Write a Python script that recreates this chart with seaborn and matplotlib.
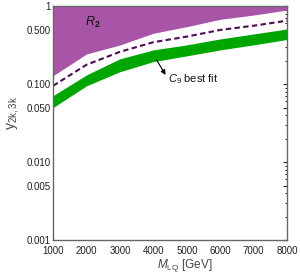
import numpy as np
import pandas as pd
import matplotlib
matplotlib.use("Agg")
import matplotlib.pyplot as plt
import seaborn as sns
from matplotlib.ticker import FixedLocator, FixedFormatter, MultipleLocator, LogLocator, NullFormatter

# leptoquark mass [GeV]
m_lq = [1000, 2000, 3000, 4000, 5000, 6000, 7000, 8000]

# lower edge of the excluded R2 region (upper edge is y = 1)
r2_lower = [0.128, 0.243, 0.317, 0.448, 0.544, 0.676, 0.767, 0.889]
# dashed boundary
dashed = [0.095, 0.177, 0.259, 0.344, 0.406, 0.494, 0.560, 0.649]
# C9 best fit band
c9_upper = [0.071, 0.131, 0.211, 0.274, 0.318, 0.379, 0.439, 0.508]
c9_lower = [0.050, 0.095, 0.144, 0.194, 0.230, 0.274, 0.318, 0.373]

y_ticks = [0.001, 0.005, 0.010, 0.050, 0.100, 0.500, 1]
y_tick_labels = ["0.001", "0.005", "0.010", "0.050", "0.100", "0.500", "1"]
x_ticks = [1000, 2000, 3000, 4000, 5000, 6000, 7000, 8000]

purple = "#A855A8"
green = "#00A600"
dark_purple = "#4E0C55"

sns.set_style("white")
plt.rcParams["font.family"] = ["Liberation Sans", "DejaVu Sans"]
plt.rcParams["mathtext.fontset"] = "custom"
plt.rcParams["mathtext.rm"] = "Liberation Sans"
plt.rcParams["mathtext.it"] = "Liberation Sans:italic"
plt.rcParams["mathtext.bf"] = "Liberation Sans:bold"

df = pd.DataFrame({"M": m_lq, "dashed": dashed})

fig = plt.figure(figsize=(3.0, 2.75), dpi=100)
ax = fig.add_axes([0.177, 0.127, 0.78, 0.851])

ax.fill_between(m_lq, r2_lower, [1] * len(m_lq), color=purple, linewidth=0)
ax.fill_between(m_lq, c9_lower, c9_upper, color=green, linewidth=0)
sns.lineplot(data=df, x="M", y="dashed", ax=ax, color=dark_purple,
             linewidth=1.5, dashes=False)
ax.lines[-1].set_dashes([2.6, 1.6])

ax.set_yscale("log")
ax.set_xlim(1000, 8000)
ax.set_ylim(0.001, 1)

ax.yaxis.set_major_locator(FixedLocator(y_ticks))
ax.yaxis.set_major_formatter(FixedFormatter(y_tick_labels))
ax.yaxis.set_minor_locator(LogLocator(base=10, subs=np.arange(2, 10) * 1.0))
ax.yaxis.set_minor_formatter(NullFormatter())
ax.xaxis.set_major_locator(FixedLocator(x_ticks))
ax.xaxis.set_minor_locator(MultipleLocator(200))

ax.tick_params(which="both", direction="in", top=True, right=True,
               labelsize=7, colors="#222222")
ax.tick_params(axis="y", pad=1.5)
ax.tick_params(axis="x", pad=4.5)
ax.tick_params(which="major", length=3, width=0.8)
ax.tick_params(which="minor", length=1.5, width=0.7)
for s in ax.spines.values():
    s.set_color("#666666")
    s.set_linewidth(1.0)

ax.set_xlabel(r"$M_{\mathrm{LQ}}$ [GeV]", fontsize=8.5, color="#444444")
ax.xaxis.set_label_coords(0.564, -0.074)
ax.set_ylabel(r"$\mathrm{y}_{\mathrm{2k,3k}}$", fontsize=10, color="#444444",
              va="center")
ax.yaxis.set_label_coords(-0.17, 0.545)

ax.text(1957, 0.612, r"$\mathbf{\mathit{R}_2}$", fontsize=9,
        va="center", ha="left", color="#111111")

ax.annotate("", xy=(4365, 0.131), xytext=(4096, 0.204),
            arrowprops=dict(arrowstyle="-|>", color="black", lw=0.8,
                            mutation_scale=7, shrinkA=0, shrinkB=0))
ax.text(4440, 0.117, r"$C_9$ best fit", fontsize=8, va="center", ha="left",
        color="#111111")

fig.savefig("out.png", dpi=100)
